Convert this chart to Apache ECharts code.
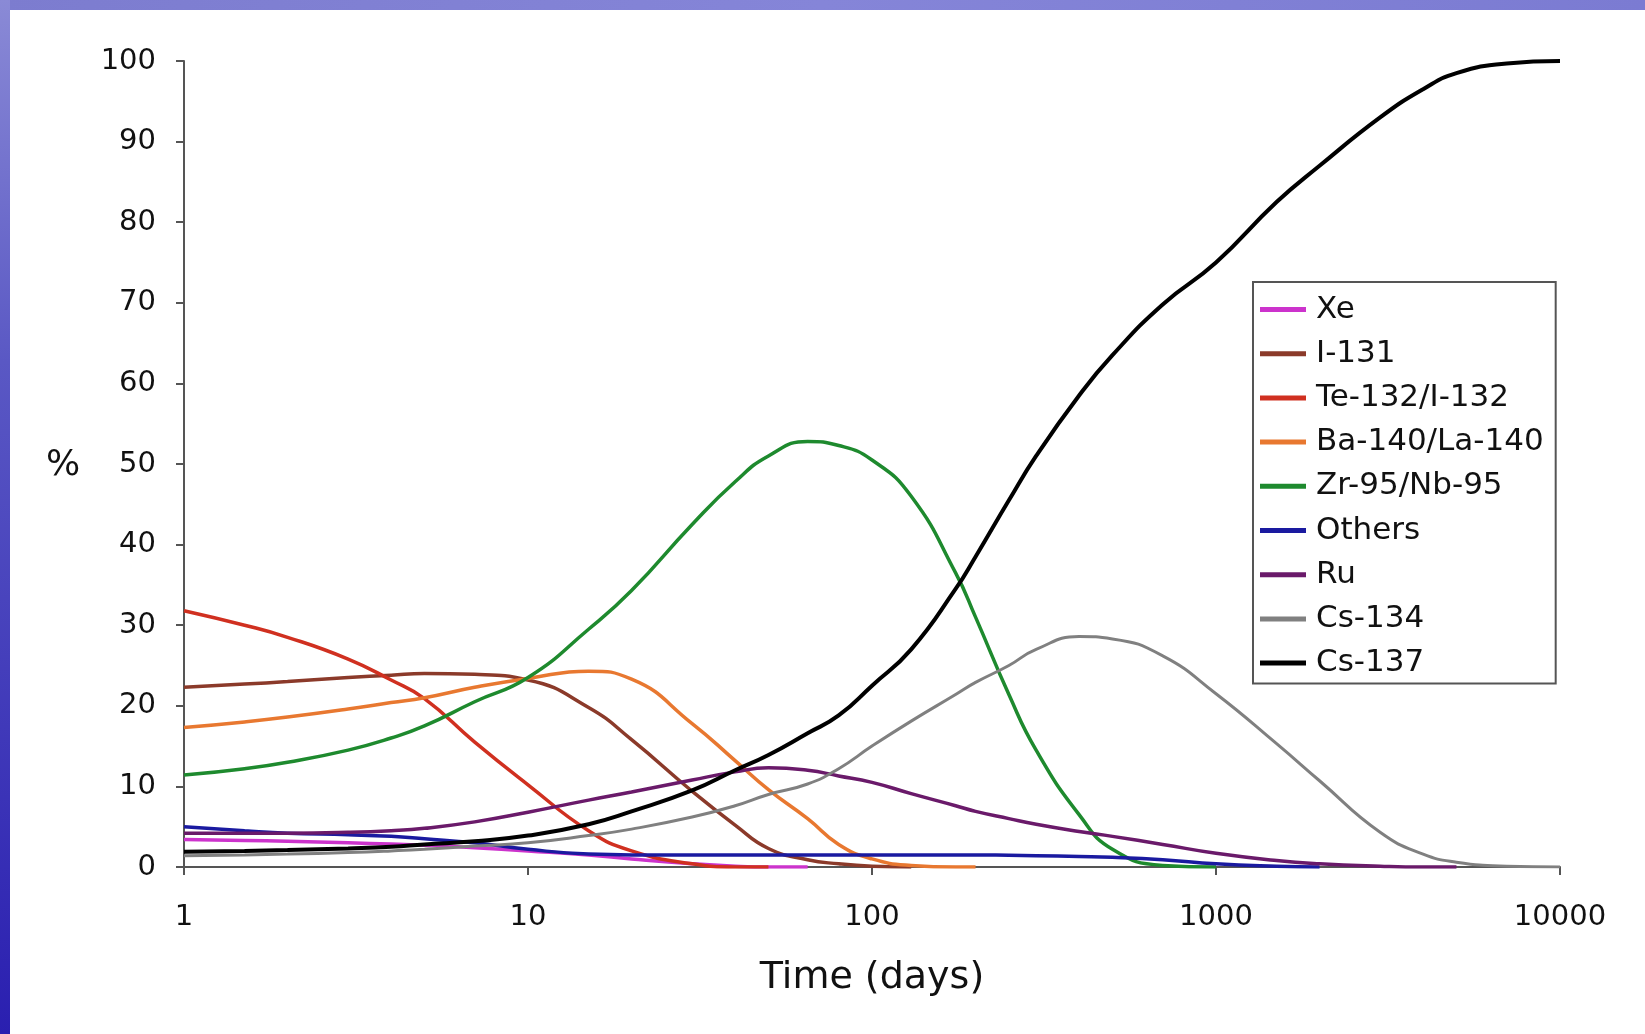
<!DOCTYPE html>
<html>
<head>
<meta charset="utf-8">
<script src="https://cdn.jsdelivr.net/npm/echarts@6/dist/echarts.min.js"></script>
<style>
  html, body { margin: 0; padding: 0; background: #ffffff; }
  #chart { width: 1645px; height: 1034px; }
</style>
</head>
<body>
<div id="chart"></div>
<script>
// ---- data ----
const days   = [1, 1.5, 2, 3, 4, 5, 7, 10, 15, 20, 30, 40, 50, 65, 80, 100, 130, 175, 200, 250, 300, 400, 500, 700, 1000, 1500, 2000, 3000, 4000, 5000, 7000, 10000];
const xe     = [3.4, 3.3, 3.2, 3.0, 2.85, 2.7, 2.4, 2.0, 1.5, 1.0, 0.4, 0.1, 0, 0, null, null, null, null, null, null, null, null, null, null, null, null, null, null, null, null, null, null];
const i131   = [22.3, 22.7, 23.0, 23.5, 23.8, 24.0, 23.9, 23.2, 19.8, 15.8, 9.4, 5.2, 2.3, 0.9, 0.4, 0.1, 0, null, null, null, null, null, null, null, null, null, null, null, null, null, null, null];
const te132  = [31.8, 30.0, 28.5, 25.8, 23.2, 20.9, 15.5, 10.2, 4.5, 2.0, 0.4, 0, 0, null, null, null, null, null, null, null, null, null, null, null, null, null, null, null, null, null, null, null];
const ba140  = [17.3, 18.0, 18.6, 19.6, 20.4, 21.0, 22.3, 23.4, 24.3, 23.3, 17.8, 13.2, 9.6, 6.0, 2.8, 1.0, 0.2, 0, 0, null, null, null, null, null, null, null, null, null, null, null, null, null];
const zr95   = [11.4, 12.2, 13.0, 14.5, 16.0, 17.5, 20.5, 23.5, 29.5, 34.3, 42.5, 47.8, 51.0, 52.8, 52.3, 50.5, 46.0, 36.5, 31.0, 21.4, 14.5, 6.5, 2.2, 0.2, 0, null, null, null, null, null, null, null];
const others = [5.0, 4.5, 4.2, 4.0, 3.8, 3.5, 3.0, 2.2, 1.6, 1.5, 1.5, 1.5, 1.5, 1.5, 1.5, 1.5, 1.5, 1.5, 1.5, 1.45, 1.4, 1.3, 1.2, 0.9, 0.4, 0.1, 0, null, null, null, null, null];
const ru     = [4.2, 4.2, 4.2, 4.3, 4.5, 4.8, 5.6, 6.8, 8.3, 9.3, 10.8, 11.8, 12.3, 12.0, 11.3, 10.5, 9.1, 7.6, 6.9, 6.0, 5.3, 4.4, 3.8, 2.8, 1.7, 0.8, 0.4, 0.1, 0, 0, null, null];
const cs134  = [1.4, 1.5, 1.6, 1.8, 2.0, 2.2, 2.6, 3.0, 3.9, 4.7, 6.2, 7.6, 9.0, 10.3, 12.2, 15.0, 18.1, 21.4, 22.9, 25.0, 27.0, 28.6, 28.3, 26.2, 21.5, 15.3, 10.7, 4.3, 1.6, 0.6, 0.1, 0];
const cs137  = [1.9, 2.0, 2.1, 2.3, 2.5, 2.8, 3.2, 3.9, 5.3, 6.9, 9.5, 12.0, 13.9, 16.6, 18.8, 22.5, 27.0, 34.5, 38.5, 45.5, 51.0, 58.5, 63.5, 69.8, 75.0, 82.5, 87.0, 93.0, 96.5, 98.5, 99.7, 100];

const seriesNames  = ['Xe', 'I-131', 'Te-132/I-132', 'Ba-140/La-140', 'Zr-95/Nb-95', 'Others', 'Ru', 'Cs-134', 'Cs-137'];
const seriesValues = [xe, i131, te132, ba140, zr95, others, ru, cs134, cs137];
const seriesColors = ['#CC33CC', '#8B3A2A', '#D03020', '#E87830', '#1E8A2E', '#1A1AA0', '#6A1A6A', '#808080', '#000000'];
const seriesWidths = [3.5, 3.5, 3.5, 3.5, 3.5, 3.5, 3.5, 3, 4];
const xTicks = [1, 10, 100, 1000, 10000];
const yTicks = [0, 10, 20, 30, 40, 50, 60, 70, 80, 90, 100];

function pairs(vals) {
  const out = [];
  for (let i = 0; i < days.length; i++) {
    if (vals[i] !== null) out.push([days[i], vals[i]]);
  }
  return out;
}

const FONT = 'DejaVu Sans';
const chart = echarts.init(document.getElementById('chart'), null, { renderer: 'canvas' });

const option = {
  animation: false,
  backgroundColor: '#ffffff',
  textStyle: { fontFamily: FONT },
  graphic: [
    { type: 'rect', left: 0, top: 0, shape: { width: 1645, height: 10 }, z: 0,
      style: { fill: new echarts.graphic.LinearGradient(0, 0, 1, 0, [
        { offset: 0, color: '#7C7CCF' }, { offset: 0.5, color: '#8585D8' }, { offset: 1, color: '#7B7BD2' }]) } },
    { type: 'rect', left: 0, top: 0, shape: { width: 10, height: 1034 }, z: 0,
      style: { fill: new echarts.graphic.LinearGradient(0, 0, 0, 1, [
        { offset: 0, color: '#8A8AD6' }, { offset: 0.35, color: '#5A58C4' }, { offset: 1, color: '#2A1FB0' }]) } },
    { type: 'text', left: 46, top: 448, z: 10,
      style: { text: '%', fontFamily: FONT, fontSize: 36, fill: '#111' } }
  ],
  grid: { left: 184, right: 85, top: 61, bottom: 167, containLabel: false },
  legend: {
    orient: 'vertical',
    left: 1253, top: 282,
    padding: [12, 12, 5, 7],
    itemGap: 13.2,
    itemWidth: 46, itemHeight: 5,
    icon: 'rect',
    borderColor: '#555', borderWidth: 2,
    backgroundColor: '#ffffff',
    textStyle: { fontFamily: FONT, fontSize: 31, color: '#111', lineHeight: 30, padding: [0, 0, 0, 5] },
    data: seriesNames
  },
  xAxis: {
    type: 'log', logBase: 10, min: 1, max: 10000, splitNumber: 4,
    name: 'Time (days)', nameLocation: 'middle', nameGap: 92,
    nameTextStyle: { fontFamily: FONT, fontSize: 38, color: '#111' },
    axisLine: { lineStyle: { color: '#555', width: 2 } },
    axisTick: { show: true, length: 8, lineStyle: { color: '#555', width: 2 } },
    minorTick: { show: false },
    splitLine: { show: false },
    axisLabel: { fontFamily: FONT, fontSize: 29, color: '#111', margin: 36,
      formatter: function (v) { return xTicks.indexOf(v) >= 0 ? String(v) : ''; } }
  },
  yAxis: {
    type: 'value', min: 0, max: 100, interval: 10,
    axisLine: { show: true, lineStyle: { color: '#555', width: 2 } },
    axisTick: { show: true, length: 8, lineStyle: { color: '#555', width: 2 } },
    splitLine: { show: false },
    axisLabel: { fontFamily: FONT, fontSize: 29, color: '#111', margin: 28,
      formatter: function (v) { return yTicks.indexOf(v) >= 0 ? String(v) : ''; } }
  },
  series: seriesNames.map(function (n, i) {
    return {
      name: n, type: 'line', data: pairs(seriesValues[i]),
      smooth: 0.5,
      showSymbol: false, symbol: 'none',
      color: seriesColors[i],
      lineStyle: { color: seriesColors[i], width: seriesWidths[i] },
      z: 2 + i
    };
  })
};
chart.setOption(option);
</script>
</body>
</html>
